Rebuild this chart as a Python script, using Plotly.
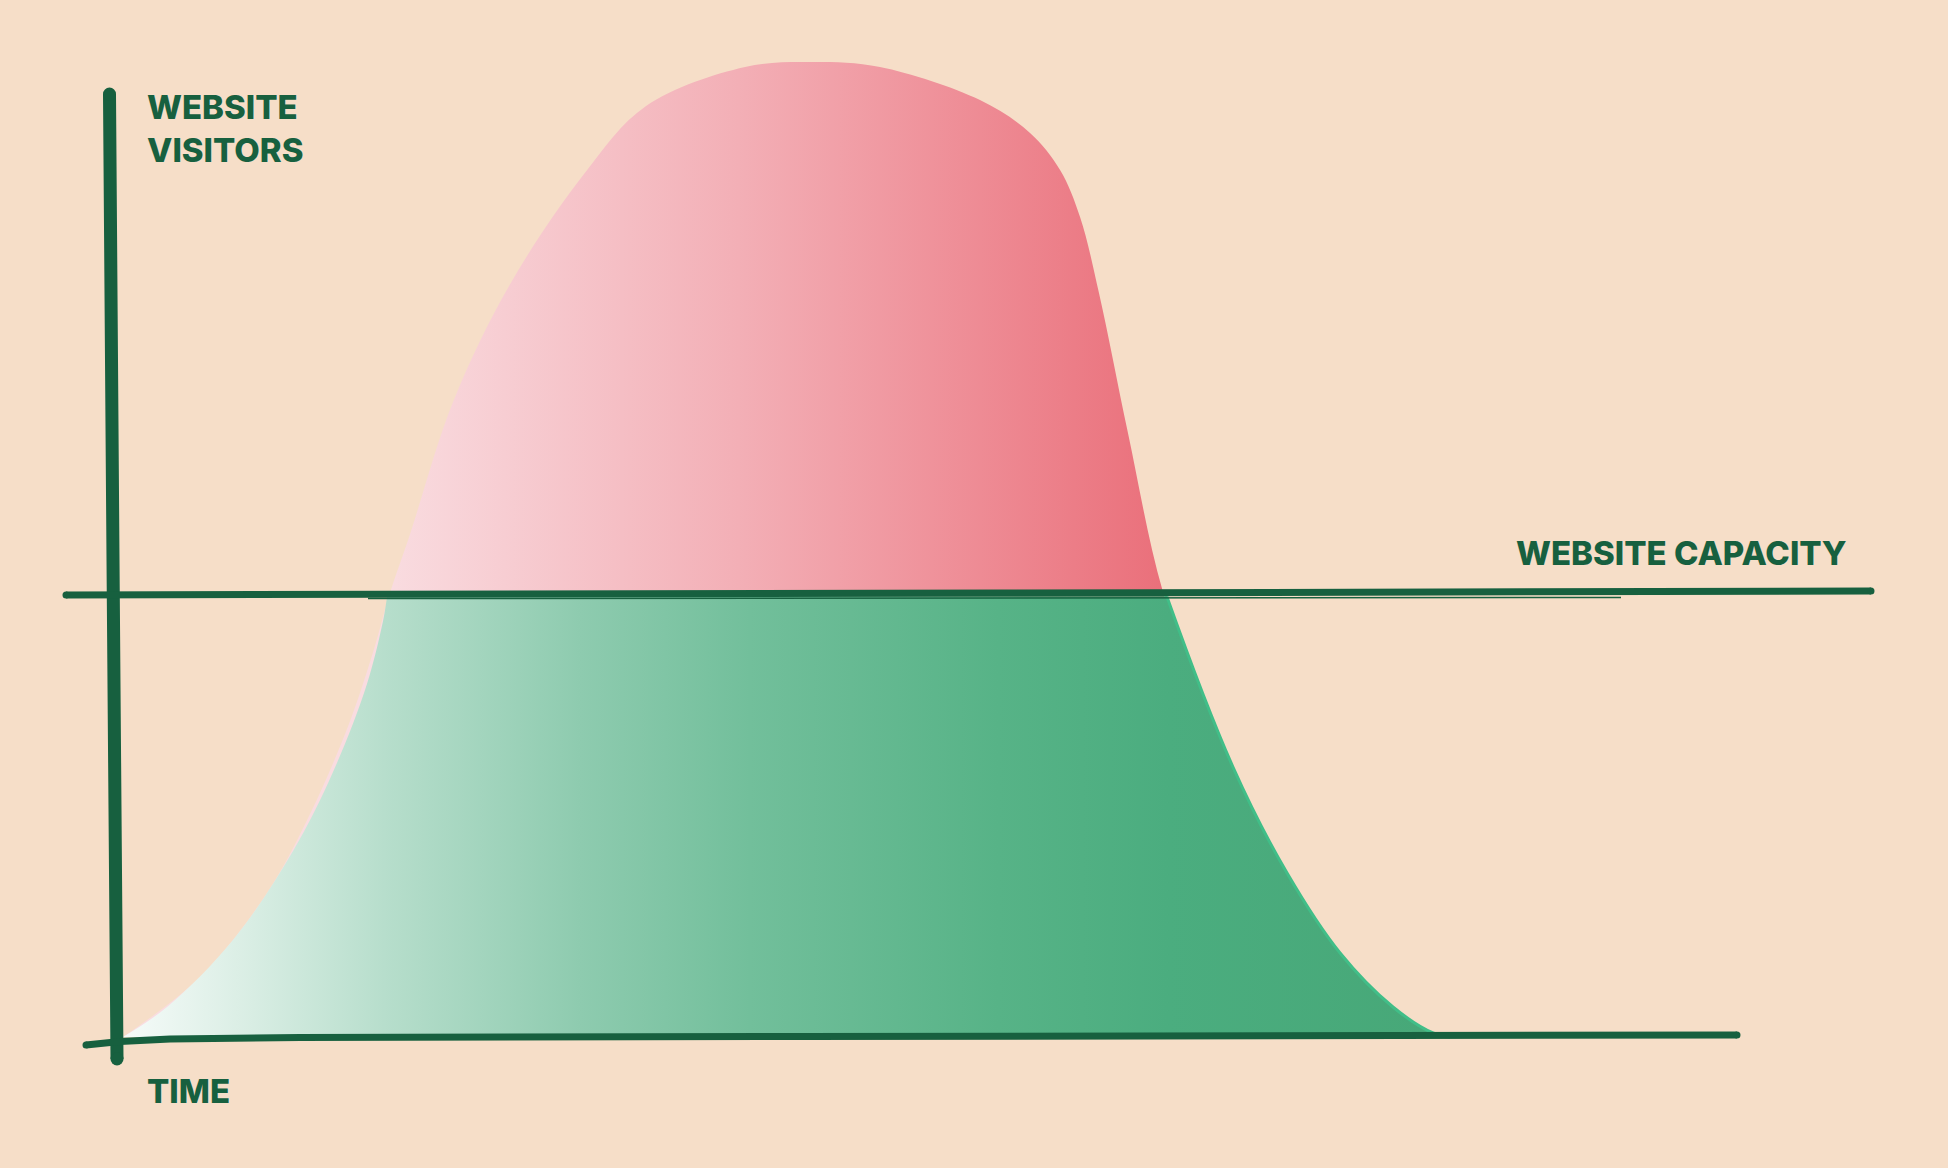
import plotly.graph_objects as go

# ---------------- data ----------------
# visitors over time: outline of the "over capacity" (pink) shape
pink_time = [0, 5.90, 11.03, 14.32, 17.30, 19.22, 20.37, 21.98, 25.27, 29.56, 35.30,
             40.05, 47.63, 52.91, 57.96, 65.62, 69.45, 71.75, 73.28, 74.73, 76.95,
             79.63, 84.38, 88.59, 92.57, 96.63, 99.69]
pink_visitors = [0, 6.15, 14.77, 22.87, 32.10, 39.79, 45.23, 51.59, 65.13, 77.03, 88.51,
                 95.49, 99.49, 100.0, 99.49, 96.10, 92.72, 88.92, 84.10, 76.31, 61.95,
                 45.64, 27.69, 16.82, 8.62, 3.08, 0.41]
# visitors over time: outline of the "within capacity" (green) shape
green_time = [0, 3.37, 8.42, 13.02, 16.08, 18.68, 19.91, 20.21, 20.52, 20.90,
              78.64, 79.94, 84.99, 89.13, 93.19, 97.24, 100.31, 101.61]
green_visitors = [0, 3.08, 9.95, 19.08, 27.18, 36.21, 42.67, 45.03, 47.38, 50.15,
                  50.46, 45.13, 27.69, 16.82, 8.62, 3.08, 0.41, 0.0]
CAPACITY = 45.2

label_visitors = "WEBSITE<br>VISITORS"
label_capacity = "WEBSITE CAPACITY"
label_time = "TIME"

# ---------------- styling / layout calibration ----------------
W, H = 1948, 1168
BG = "#F6DEC8"
DARK = "#17603F"
FONT = dict(family="Inter, 'Open Sans', sans-serif", size=33, color=DARK, weight=800)

# pixel position of time=0 / visitors=0 and pixels per unit
X0, SX = 123.0, 13.06
Y0, SY = 1037.0, 9.75
xr = [(0 - X0) / SX, (W - X0) / SX]
yr = [(Y0 - H) / SY, Y0 / SY]
f_cap = (CAPACITY - yr[0]) / (yr[1] - yr[0])


def px(x, y):
    return x / W, 1 - y / H


pink_scale = [[0, "#F9DCE0"], [0.45, "#F3AFB6"], [1, "#EA6F7A"]]
green_scale = [[0, "#F6FBF9"], [0.1, "#D8EDE3"], [0.2, "#B7DECC"], [0.35, "#8ECBAF"],
               [0.48, "#72BF9B"], [0.67, "#57B387"], [0.8, "#4BAD7F"], [1, "#47A878"]]

SPL = dict(shape="spline", smoothing=1.0, simplify=False)

fig = go.Figure()

# over-capacity (pink) shape; green covers it below capacity
fig.add_trace(go.Scatter(
    x=pink_time, y=pink_visitors, mode="lines", xaxis="x", yaxis="y",
    line=dict(color="rgba(0,0,0,0)", width=0, **SPL),
    fill="tozeroy",
    fillgradient=dict(type="horizontal", start=20.3, stop=80, colorscale=pink_scale),
    hoverinfo="skip", showlegend=False))

# within-capacity (green) shape – clipped at capacity by its own subplot
fig.add_trace(go.Scatter(
    x=green_time, y=green_visitors, mode="lines", xaxis="x2", yaxis="y2",
    line=dict(color="rgba(0,0,0,0)", width=0, **SPL),
    fill="tozeroy",
    fillgradient=dict(type="horizontal", start=0, stop=100, colorscale=green_scale),
    hoverinfo="skip", showlegend=False))

# light rim along the falling green edge
rim_t = [t for t in green_time if t >= 78.0]
rim_v = [v for t, v in zip(green_time, green_visitors) if t >= 78.0]
fig.add_trace(go.Scatter(
    x=rim_t, y=rim_v, mode="lines", xaxis="x2", yaxis="y2",
    line=dict(color="#41BE88", width=3, **SPL),
    hoverinfo="skip", showlegend=False))


# ---------------- hand-drawn axis strokes (decoration) ----------------
def path(points):
    s = ""
    for i, (x, y) in enumerate(points):
        a, b = px(x, y)
        s += ("M" if i == 0 else "L") + f"{a:.5f},{b:.5f} "
    return s


def dot(x, y, r):
    a0, b0 = px(x - r, y + r)
    a1, b1 = px(x + r, y - r)
    return dict(type="circle", xref="paper", yref="paper", x0=a0, x1=a1, y0=b0, y1=b1,
                fillcolor=DARK, line=dict(width=0), layer="above")


shapes = [
    dict(type="path", xref="paper", yref="paper", layer="above",
         path=path([(109.5, 94), (113, 560), (117, 1059)]), line=dict(color=DARK, width=13)),
    dot(109.5, 94, 6.5), dot(117, 1059, 6.5),
    dict(type="path", xref="paper", yref="paper", layer="above",
         path=path([(86, 1045), (120, 1041.5), (170, 1039), (300, 1037.5), (800, 1036.5),
                    (1737, 1035)]),
         line=dict(color=DARK, width=7)),
    dot(86, 1045, 3.5), dot(1737, 1035, 3.5),
    dict(type="path", xref="paper", yref="paper", layer="above",
         path=path([(66, 595), (1000, 593), (1871, 591)]), line=dict(color=DARK, width=7)),
    dot(66, 595, 3.5), dot(1871, 591, 3.5),
    dict(type="path", xref="paper", yref="paper", layer="above",
         path=path([(368, 598.5), (1621, 597.5)]), line=dict(color=DARK, width=1.5)),
]

annotations = [
    dict(text=label_visitors, x=px(145, 0)[0], y=px(0, 128)[1], xref="paper", yref="paper",
         xanchor="left", yanchor="middle", align="left", showarrow=False, font=FONT),
    dict(text=label_capacity, x=px(1849, 0)[0], y=px(0, 553)[1], xref="paper", yref="paper",
         xanchor="right", yanchor="middle", align="right", showarrow=False, font=FONT),
    dict(text=label_time, x=px(145, 0)[0], y=px(0, 1091)[1], xref="paper", yref="paper",
         xanchor="left", yanchor="middle", align="left", showarrow=False, font=FONT),
]

ax = dict(visible=False, showgrid=False, zeroline=False, fixedrange=True)
fig.update_layout(
    width=W, height=H, margin=dict(l=0, r=0, t=0, b=0),
    paper_bgcolor=BG, plot_bgcolor="rgba(0,0,0,0)",
    xaxis=dict(ax, range=xr, domain=[0, 1], anchor="y"),
    yaxis=dict(ax, range=yr, domain=[0, 1], anchor="x"),
    xaxis2=dict(ax, range=xr, domain=[0, 1], anchor="y2"),
    yaxis2=dict(ax, range=[yr[0], CAPACITY], domain=[0, f_cap], anchor="x2"),
    shapes=shapes, annotations=annotations, showlegend=False,
)

fig.write_html("out.html", config={"displayModeBar": False, "staticPlot": True},
               post_script="document.body.style.margin='0';document.body.style.overflow='hidden';")
